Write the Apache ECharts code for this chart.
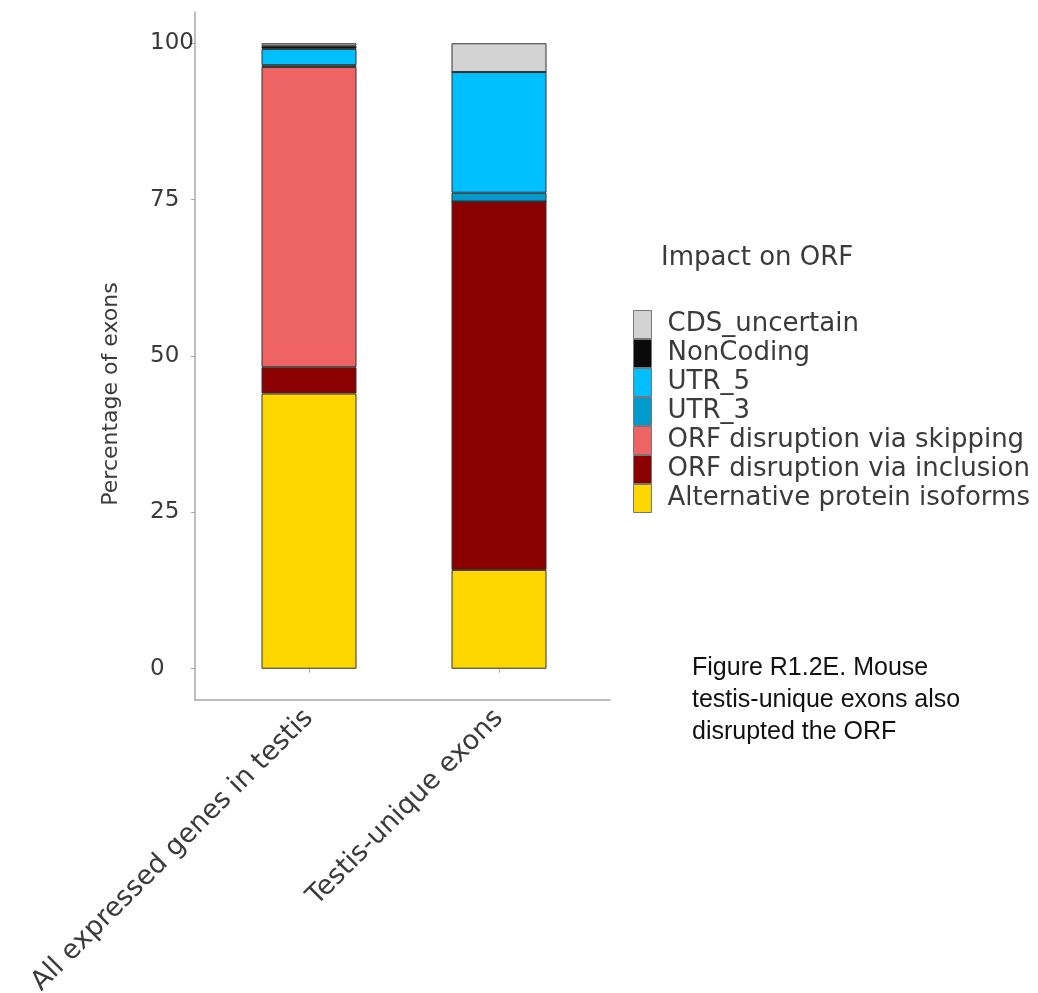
<!DOCTYPE html>
<html>
<head>
<meta charset="utf-8">
<script src="https://cdn.jsdelivr.net/npm/echarts@6/dist/echarts.min.js"></script>
<style>
  html, body { margin: 0; padding: 0; background: #fff; }
  #chart { width: 1038px; height: 993px; }
</style>
</head>
<body>
<div id="chart"></div>
<script>
// Exon categories on the x axis
const categories = ['All expressed genes in testis', 'Testis-unique exons'];

// Percentage of exons per ORF-impact class (stack order: bottom to top)
const altProteinIsoforms = [44.0, 15.8];
const orfDisruptionInclusion = [4.2, 58.9];
const orfDisruptionSkipping = [48.0, 0.0];
const utr3 = [0.3, 1.4];
const utr5 = [2.6, 19.3];
const nonCoding = [0.5, 0.0];
const cdsUncertain = [0.4, 4.6];

const yTicks = [0, 25, 50, 75, 100];

const classes = [
  { name: 'Alternative protein isoforms', values: altProteinIsoforms, color: '#FFD700' },
  { name: 'ORF disruption via inclusion', values: orfDisruptionInclusion, color: '#8B0000' },
  { name: 'ORF disruption via skipping', values: orfDisruptionSkipping, color: '#EE6363' },
  { name: 'UTR_3', values: utr3, color: '#009ACD' },
  { name: 'UTR_5', values: utr5, color: '#00BFFF' },
  { name: 'NonCoding', values: nonCoding, color: '#0A0A0A' },
  { name: 'CDS_uncertain', values: cdsUncertain, color: '#D3D3D3' }
];

const font = 'DejaVu Sans';
const textColor = '#3a3a3a';
const axisGray = '#a8a8a8';

const chart = echarts.init(document.getElementById('chart'), null, { renderer: 'canvas' });

const series = classes.map(c => ({
  name: c.name,
  type: 'bar',
  stack: 'total',
  barWidth: 95,
  xAxisIndex: 0,
  yAxisIndex: 0,
  itemStyle: { color: c.color, borderColor: '#333', borderWidth: 1 },
  emphasis: { disabled: true },
  data: c.values
}));

chart.setOption({
  animation: false,
  backgroundColor: '#fff',
  title: [
    {
      text: 'Impact on ORF',
      left: 656, top: 240,
      textStyle: { fontFamily: font, fontSize: 26, fontWeight: 'normal', color: textColor }
    },
    {
      text: 'Figure R1.2E. Mouse\ntestis-unique exons also\ndisrupted the ORF',
      left: 687, top: 647,
      textStyle: { fontFamily: 'Liberation Sans', fontSize: 25, fontWeight: 'normal', color: '#111', lineHeight: 32 }
    }
  ],
  legend: {
    orient: 'vertical',
    left: 628, top: 305,
    icon: 'rect',
    itemWidth: 18,
    itemHeight: 28,
    itemGap: 0,
    data: classes.map(c => c.name).reverse(),
    itemStyle: { borderColor: '#777', borderWidth: 1 },
    textStyle: { fontFamily: font, fontSize: 26, lineHeight: 28, color: textColor, padding: [0, 0, 0, 11] },
    selectedMode: false
  },
  grid: [
    // plotting area for the bars
    { left: 214, right: 444, top: 12, bottom: 293, containLabel: false, outerBoundsMode: 'none' },
    // full panel extent, used for the bottom axis line
    { left: 195, right: 428, top: 12, bottom: 293, containLabel: false, outerBoundsMode: 'none' }
  ],
  xAxis: [
    {
      type: 'category',
      gridIndex: 0,
      data: categories,
      axisLine: { show: false },
      axisTick: { show: true, alignWithLabel: true, length: 4, lineStyle: { color: axisGray } },
      axisLabel: {
        rotate: 45,
        margin: 14,
        fontFamily: font, fontSize: 27, color: textColor
      }
    },
    {
      type: 'value',
      gridIndex: 1,
      min: 0, max: 1,
      splitLine: { show: false },
      axisLine: { show: true, lineStyle: { color: axisGray, width: 1.5 } },
      axisTick: { show: false },
      axisLabel: { show: false }
    }
  ],
  yAxis: [
    {
      type: 'value',
      gridIndex: 0,
      min: -5, max: 105,
      offset: 19,
      name: 'Percentage of exons',
      nameLocation: 'middle',
      nameGap: 73,
      nameTextStyle: { fontFamily: font, fontSize: 22, color: textColor, padding: [0, 76, 0, 0] },
      splitLine: { show: false },
      axisLine: { show: true, lineStyle: { color: axisGray, width: 1.5 } },
      axisTick: { show: true, customValues: yTicks, length: 4, lineStyle: { color: axisGray } },
      axisLabel: {
        customValues: yTicks,
        align: 'left',
        margin: 45,
        fontFamily: font, fontSize: 23, color: textColor
      }
    },
    {
      type: 'value',
      gridIndex: 1,
      show: false
    }
  ],
  series: series
});
</script>
</body>
</html>
